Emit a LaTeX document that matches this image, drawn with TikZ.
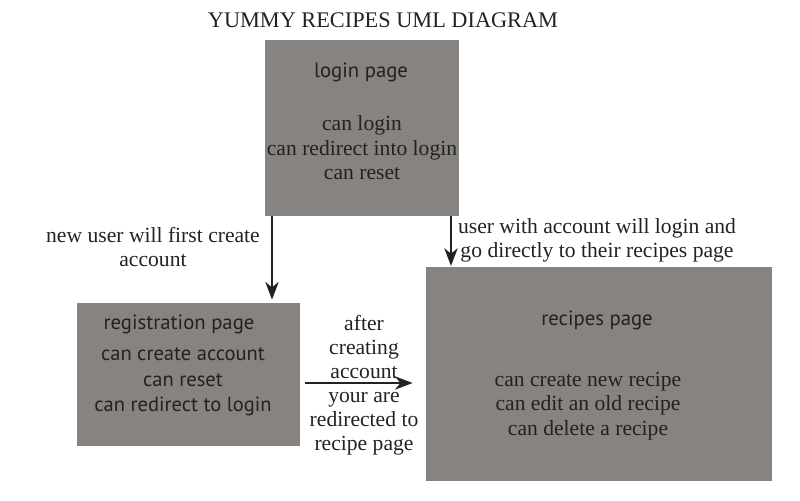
\documentclass[tikz,border=0pt]{standalone}
\usepackage{fontspec}
\setmainfont{Liberation Serif}
\setsansfont{PT Sans}
\usetikzlibrary{arrows.meta}
\definecolor{boxgray}{RGB}{135,131,129}
\definecolor{ink}{RGB}{34,34,30}
\tikzset{
  pagebox/.style={draw=none, fill=boxgray, rectangle, inner sep=0pt},
  heading/.style={font=\sffamily\fontsize{11.8}{14}\selectfont, text=ink},
  body/.style={font=\fontsize{12.3}{13.9}\selectfont, align=center, text=ink},
  bodysans/.style={font=\sffamily\fontsize{11.7}{14.4}\selectfont, align=center, text=ink},
  note/.style={font=\fontsize{12.3}{13.7}\selectfont, align=center, text=ink},
  arr/.style={draw=ink, line width=1.6pt, -{Stealth[length=10pt,width=7.5pt,inset=3pt]}}
}
\begin{document}
\begin{tikzpicture}[x=0.02cm, y=-0.02cm]
\useasboundingbox (0,0) rectangle (800,500);

% title
\node[font=\fontsize{12.7}{15}\selectfont, text=ink] (title) at (383,20) {YUMMY RECIPES UML DIAGRAM};

% page boxes
\node[pagebox, minimum width=3.88cm, minimum height=3.52cm] (login) at (362,128) {};
\node[pagebox, minimum width=4.46cm, minimum height=2.86cm] (reg) at (188.5,374.5) {};
\node[pagebox, minimum width=6.92cm, minimum height=4.28cm] (rec) at (599,374) {};

% login page contents
\node[heading] (loginhead) at (361,72) {login page};
\node[body] (loginbody) at (362,148) {can login\\can redirect into login\\can reset};

% registration page contents
\node[heading] (reghead) at (179,324) {registration page};
\node[bodysans] (regbody) at (183,382) {can create account\\can reset\\can redirect to login};

% recipes page contents
\node[heading] (rechead) at (597,320) {recipes page};
\node[body] (recbody) at (588,406) {can create new recipe\\can edit an old recipe\\can delete a recipe};

% connector columns and row
\coordinate (colA) at (272,0);
\coordinate (colB) at (451,0);
\coordinate (rowC) at (0,383);

% connectors
\draw[arr, shorten >=1.7pt] (login.south -| colA) -- (reg.north -| colA);
\draw[arr, shorten >=0.4pt] (login.south -| colB) -- (rec.north -| colB);
\draw[arr, shorten <=2.8pt, shorten >=7.4pt] (reg.east |- rowC) -- (rec.west |- rowC);

% connector notes
\node[note] (noteA) at (153,247) {new user will first create\\account};
\node[note] (noteB) at (597,240) {user with account will login and\\go directly to their recipes page};
\node[note] (noteC) at (364,385) {after\\creating\\account\\your are\\redirected to\\recipe page};
\end{tikzpicture}
\end{document}
